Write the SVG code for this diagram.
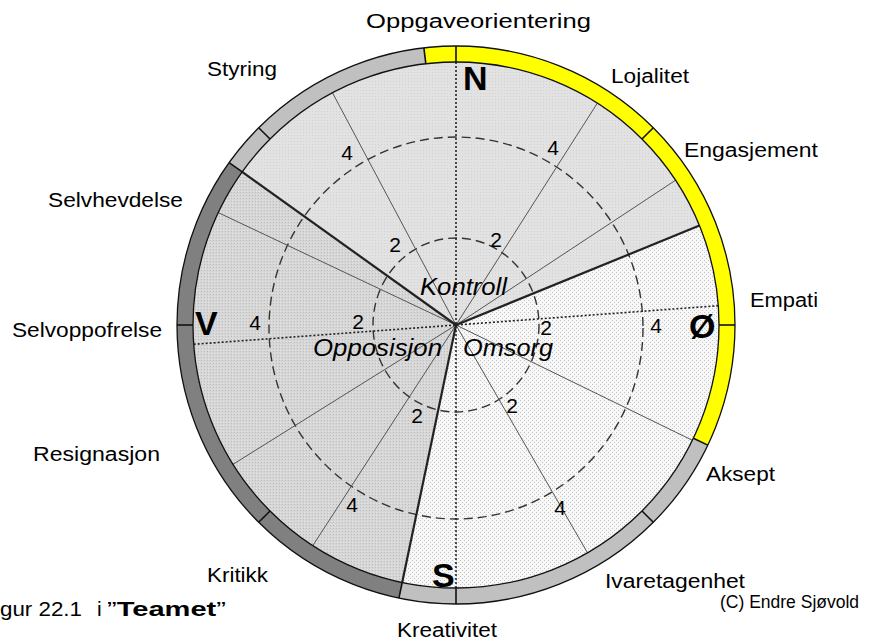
<svg xmlns="http://www.w3.org/2000/svg" width="869" height="642" viewBox="0 0 869 642">
  <style>
    .lbl { font-family: "Liberation Sans", Arial, sans-serif; font-size: 20px; fill: #000; }
    .cap { font-family: "Liberation Sans", Arial, sans-serif; font-size: 21px; fill: #000; }
    .credit { font-family: "Liberation Sans", Arial, sans-serif; font-size: 17.5px; fill: #000; }
    .num { font-family: "Liberation Sans", Arial, sans-serif; font-size: 21px; fill: #000; text-anchor: middle; }
    .zone { font-family: "Liberation Sans", Arial, sans-serif; font-size: 23px; font-style: italic; fill: #000; }
    .dir { font-family: "Liberation Sans", Arial, sans-serif; font-size: 34px; font-weight: bold; fill: #000; }
    .edge { stroke: #222; stroke-width: 2.2; fill: none; }
    .spoke { stroke: #555; stroke-width: 1; fill: none; }
    .axis { stroke: #222; stroke-width: 1.6; stroke-dasharray: 2 2; fill: none; }
    .level { stroke: #333; stroke-width: 1.4; stroke-dasharray: 9 5; fill: none; }
    .band { fill: none; stroke-width: 16; }
    .rim { fill: none; stroke: #111; stroke-width: 1.3; }
    .tick { stroke: #111; stroke-width: 1.6; }
  </style>
  <defs>
    <pattern id="dotsLight" width="4" height="4" patternUnits="userSpaceOnUse">
      <rect width="4" height="4" fill="#f7f7f7"/>
      <rect x="0" y="0" width="1" height="1" fill="#c4c4c4"/>
      <rect x="2" y="2" width="1" height="1" fill="#c4c4c4"/>
    </pattern>
    <pattern id="dotsMid" width="3" height="3" patternUnits="userSpaceOnUse">
      <rect width="3" height="3" fill="#e2e2e2"/>
      <rect x="0" y="0" width="1" height="1" fill="#d2d2d2"/>
    </pattern>
    <pattern id="dotsDark" width="3" height="3" patternUnits="userSpaceOnUse">
      <rect width="3" height="3" fill="#d6d6d6"/>
      <rect x="0" y="0" width="1" height="1" fill="#bdbdbd"/>
      <rect x="1" y="2" width="1" height="1" fill="#e4e4e4"/>
    </pattern>
  </defs>

  <rect width="869" height="642" fill="#fff"/>

  <!-- three zones of the circle -->
  <g id="sectors">
    <path id="sector-kontroll" d="M456,325 L699.5,225.6 A263,263 0 0 0 242.2,171.9 Z" fill="url(#dotsMid)"/>
    <path id="sector-opposisjon" d="M456,325 L242.2,171.9 A263,263 0 0 0 402.2,582.5 Z" fill="url(#dotsDark)"/>
    <path id="sector-omsorg" d="M456,325 L402.2,582.5 A263,263 0 0 0 699.5,225.6 Z" fill="url(#dotsLight)"/>
  </g>

  <!-- scale circles -->
  <g id="levels">
    <ellipse class="level" cx="456" cy="325" rx="83" ry="87"/>
    <ellipse class="level" cx="456" cy="328" rx="187" ry="191"/>
  </g>

  <!-- radial lines -->
  <g id="connectors">
    <line class="spoke" x1="456" y1="325" x2="675.6" y2="180.2"/>
    <line class="spoke" x1="456" y1="325" x2="597.3" y2="103.2"/>
    <line class="spoke" x1="456" y1="325" x2="332.5" y2="92.8"/>
    <line class="spoke" x1="456" y1="325" x2="218.2" y2="212.6"/>
    <line class="spoke" x1="456" y1="325" x2="232.9" y2="464.4"/>
    <line class="spoke" x1="456" y1="325" x2="312.8" y2="545.6"/>
    <line class="spoke" x1="456" y1="325" x2="692.4" y2="440.3"/>
    <line class="spoke" x1="456" y1="325" x2="587.5" y2="552.8"/>
    <line class="axis" x1="456" y1="62" x2="456" y2="588"/>
    <line class="axis" x1="193.7" y1="344.3" x2="718.3" y2="305.7"/>
    <line class="edge" x1="456" y1="325" x2="699.5" y2="225.6"/>
    <line class="edge" x1="456" y1="325" x2="242.2" y2="171.9"/>
    <line class="edge" x1="456" y1="325" x2="402.2" y2="582.5"/>
  </g>

  <!-- outer band -->
  <g id="ring">
    <circle class="band" cx="456" cy="325" r="271" stroke="#c0c0c0"/>
    <path class="band" d="M424.9,55.8 A271,271 0 0 1 700.6,441.7" stroke="#ffff00"/>
    <path class="band" d="M400.6,590.3 A271,271 0 0 1 235.7,167.3" stroke="#808080"/>
    <circle class="rim" cx="456" cy="325" r="279"/>
    <circle class="rim" cx="456" cy="325" r="263"/>
    <line class="tick" x1="423.9" y1="47.8" x2="425.8" y2="63.7"/>
    <line class="tick" x1="707.8" y1="445.1" x2="693.4" y2="438.2"/>
    <line class="tick" x1="398.9" y1="598.1" x2="402.2" y2="582.5"/>
    <line class="tick" x1="229.1" y1="162.6" x2="242.2" y2="171.9"/>
    <line class="tick" x1="719" y1="325" x2="735" y2="325"/>
    <line class="tick" x1="642" y1="139" x2="653.3" y2="127.7"/>
    <line class="tick" x1="456" y1="62" x2="456" y2="46"/>
    <line class="tick" x1="270" y1="139" x2="258.7" y2="127.7"/>
    <line class="tick" x1="193" y1="325" x2="177" y2="325"/>
    <line class="tick" x1="270" y1="511" x2="258.7" y2="522.3"/>
    <line class="tick" x1="456" y1="588" x2="456" y2="604"/>
    <line class="tick" x1="642" y1="511" x2="653.3" y2="522.3"/>
  </g>

  <!-- scale values -->
  <g id="values">
    <text class="num" x="347" y="160">4</text>
    <text class="num" x="395" y="252">2</text>
    <text class="num" x="553" y="155">4</text>
    <text class="num" x="496" y="247">2</text>
    <text class="num" x="255" y="330">4</text>
    <text class="num" x="358" y="329">2</text>
    <text class="num" x="546" y="335">2</text>
    <text class="num" x="656" y="333">4</text>
    <text class="num" x="417" y="423">2</text>
    <text class="num" x="352" y="512">4</text>
    <text class="num" x="512" y="413">2</text>
    <text class="num" x="560" y="515">4</text>
  </g>

  <!-- zone names -->
  <g id="zones">
    <text id="kontroll" class="zone" x="420" y="295" textLength="87" lengthAdjust="spacingAndGlyphs">Kontroll</text>
    <text id="opposisjon" class="zone" x="313" y="356" textLength="129" lengthAdjust="spacingAndGlyphs">Opposisjon</text>
    <text id="omsorg" class="zone" x="463" y="356" textLength="90" lengthAdjust="spacingAndGlyphs">Omsorg</text>
  </g>

  <!-- compass letters -->
  <g id="compass">
    <text class="dir" x="463" y="90">N</text>
    <text class="dir" x="195" y="335">V</text>
    <text class="dir" x="689" y="338">Ø</text>
    <text class="dir" x="432" y="587">S</text>
  </g>

  <!-- behaviour labels -->
  <g id="labels">
    <text id="oppgaveorientering" class="lbl" x="366" y="28" textLength="225" lengthAdjust="spacingAndGlyphs">Oppgaveorientering</text>
    <text id="styring" class="lbl" x="207" y="76" textLength="70" lengthAdjust="spacingAndGlyphs">Styring</text>
    <text id="lojalitet" class="lbl" x="611" y="83" textLength="78" lengthAdjust="spacingAndGlyphs">Lojalitet</text>
    <text id="engasjement" class="lbl" x="684" y="157" textLength="134" lengthAdjust="spacingAndGlyphs">Engasjement</text>
    <text id="selvhevdelse" class="lbl" x="48" y="207" textLength="135" lengthAdjust="spacingAndGlyphs">Selvhevdelse</text>
    <text id="empati" class="lbl" x="750" y="307" textLength="68" lengthAdjust="spacingAndGlyphs">Empati</text>
    <text id="selvoppofrelse" class="lbl" x="12" y="337" textLength="150" lengthAdjust="spacingAndGlyphs">Selvoppofrelse</text>
    <text id="resignasjon" class="lbl" x="33" y="461" textLength="127" lengthAdjust="spacingAndGlyphs">Resignasjon</text>
    <text id="aksept" class="lbl" x="706" y="481" textLength="69" lengthAdjust="spacingAndGlyphs">Aksept</text>
    <text id="kritikk" class="lbl" x="207" y="582" textLength="61" lengthAdjust="spacingAndGlyphs">Kritikk</text>
    <text id="ivaretagenhet" class="lbl" x="605" y="588" textLength="140" lengthAdjust="spacingAndGlyphs">Ivaretagenhet</text>
    <text id="kreativitet" class="lbl" x="397" y="637" textLength="100" lengthAdjust="spacingAndGlyphs">Kreativitet</text>
  </g>

  <!-- caption and credit -->
  <g id="caption">
    <text class="cap" x="0" y="616" textLength="82" lengthAdjust="spacingAndGlyphs">gur 22.1</text>
    <text class="cap" x="97" y="616">i</text>
    <text class="cap" x="107" y="616" textLength="119" lengthAdjust="spacingAndGlyphs">”<tspan font-weight="bold">Teamet</tspan>”</text>
    <text class="credit" x="720" y="608">(C) Endre Sjøvold</text>
  </g>
</svg>
